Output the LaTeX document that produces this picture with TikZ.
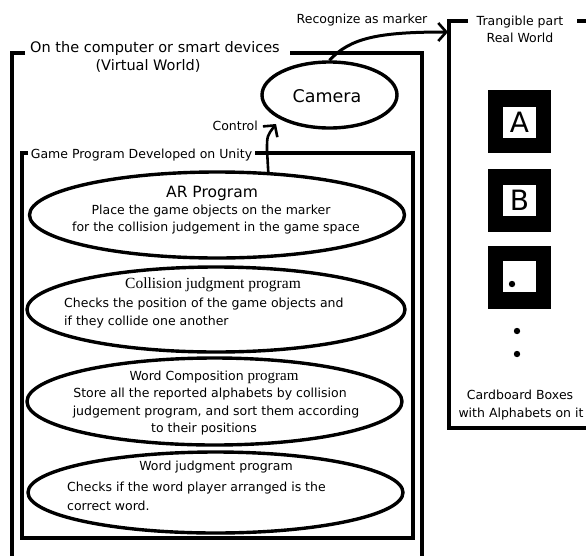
\documentclass[tikz,border=0pt]{standalone}
\usepackage{fontspec}
\setmainfont{DejaVu Sans}
\newfontfamily\serifx{Liberation Serif}
\usetikzlibrary{shapes.geometric,arrows.meta}
\begin{document}
\begin{tikzpicture}[x=1pt,y=-1pt,
  frame/.style={line width=3.2pt},
  oval/.style={draw,ellipse,line width=3.4pt,inner sep=0pt},
  lbl/.style={inner sep=0pt,anchor=base,font=\fontsize{12.5}{14}\selectfont},
  lbll/.style={lbl,anchor=base west},
  arr/.style={line width=2.6pt,-{Straight Barb[length=8pt,width=18pt,line width=2.6pt]}},
  marker/.style={fill=black,minimum width=63pt,minimum height=63pt,inner sep=0pt},
  markin/.style={fill=white,minimum width=33pt,minimum height=31pt,inner sep=0pt,font=\fontsize{28}{30}\selectfont}
]
\useasboundingbox (0,0) rectangle (586,555);
\fill[white] (0,0) rectangle (586,555);

% Virtual world frame
\draw[frame] (25,53) -- (12,53) -- (12,560);
\draw[frame] (290,53) -- (422,53) -- (422,560);
\node[lbl,font=\fontsize{14.5}{17}\selectfont] (vw1) at (155,52.5) {On the computer or smart devices};
\node[lbl,font=\fontsize{14.5}{17}\selectfont] (vw2) at (148,70) {(Virtual World)};

% Real world frame
\draw[frame] (468,21) -- (449,21) -- (449,428) -- (590,428);
\draw[frame] (577,21) -- (590,21);
\node[lbl] (rw1) at (520,25) {Trangible part};
\node[lbl] (rw2) at (520,42) {Real World};

% Markers
\node[marker] (mA) at (519.5,121.5) {};
\node[markin] (mAin) at (519.5,122) {A};
\node[marker] (mB) at (519.5,200) {};
\node[markin] (mBin) at (519.5,200.5) {B};
\node[marker] (mC) at (519.5,277.5) {};
\node[markin] (mCin) at (519.5,276.5) {};
\fill (512,284) circle (3.2);
\fill (517,331) circle (3.2);
\fill (517,354) circle (3.2);
\node[lbl] (cb1) at (520,399) {Cardboard Boxes};
\node[lbl] (cb2) at (521,417) {with Alphabets on it};

% Camera
\node[oval,minimum width=135pt,minimum height=66pt] (cam) at (329.5,95) {};
\node[lbl,font=\fontsize{17.5}{20}\selectfont] (camt) at (327,102) {Camera};

% Game program box
\draw[frame] (28,153) -- (22,153) -- (22,538) -- (413,538) -- (413,153) -- (255,153);
\node[lbl] (gp) at (141.5,158) {Game Program Developed on Unity};

% Ellipses
\node[oval,minimum width=375pt,minimum height=86pt] (ar) at (217,215) {};
\node[lbl,font=\fontsize{15.5}{18}\selectfont] (art) at (212,197) {AR Program};
\node[lbl] (ar1) at (211,214) {Place the game objects on the marker};
\node[lbl] (ar2) at (216,231) {for the collision judgement in the game space};

\node[oval,minimum width=378pt,minimum height=85pt] (col) at (216,309.5) {};
\node[lbl,font=\serifx\fontsize{15.5}{18}\selectfont] (colt) at (213,288) {Collision judgment program};
\node[lbll] (col1) at (64,307) {Checks the position of the game objects and};
\node[lbll] (col2) at (64,325) {if they collide one another};

\node[oval,minimum width=375pt,minimum height=87pt] (comp) at (214.5,401.5) {};
\node[lbl] (compt) at (214,380) {Word Composition {\serifx\fontsize{15}{17}\selectfont program}};
\node[lbl] (comp1) at (210,397) {Store all the reported alphabets by collision};
\node[lbl] (comp2) at (216,415) {judgement program, and sort them according};
\node[lbl] (comp3) at (204,432) {to their positions};

\node[oval,minimum width=375pt,minimum height=81pt] (judge) at (215.5,492.5) {};
\node[lbl] (judt) at (216,470) {Word judgment program};
\node[lbll] (jud1) at (67,491) {Checks if the word player arranged is the};
\node[lbll] (jud2) at (67,510) {correct word.};

% Connectors
\coordinate (ctltip) at (276,124);
\draw[arr] (ar.40) -- (267,150) .. controls (267,136) .. (ctltip);
\node[lbl,anchor=base east] (ctl) at (258,130) {Control};

\coordinate (rwin) at (448,32);
\draw[arr,line width=3pt] (cam.north) .. controls (350,38) and (378,32) .. (rwin);
\node[lbl] (rec) at (362,23) {Recognize as marker};
\end{tikzpicture}
\end{document}
